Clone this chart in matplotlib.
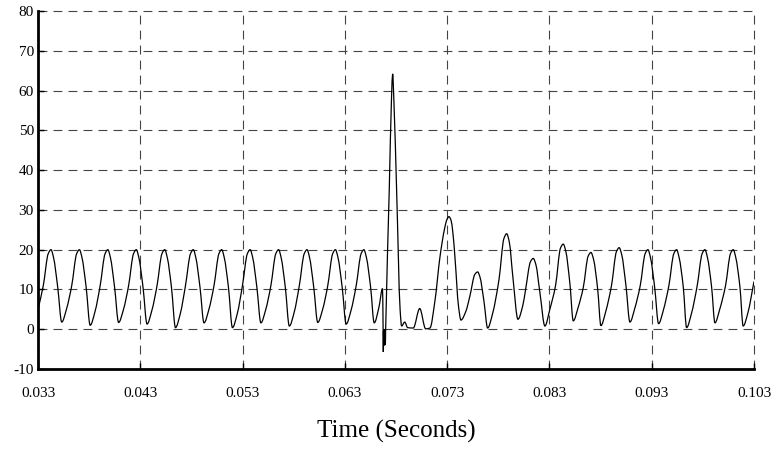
import numpy as np
import matplotlib
matplotlib.use("Agg")
import matplotlib.pyplot as plt
from matplotlib.path import Path
from matplotlib.patches import PathPatch

plt.rcParams['font.family'] = ['Liberation Serif', 'DejaVu Serif']
plt.rcParams['axes.unicode_minus'] = False

# waveform samples: time in ms, amplitude
time_ms = [
    33.00, 33.52,
    34.00, 34.27, 34.52, 34.93, 35.32, 35.80, 36.30,
    36.78, 37.05, 37.30, 37.71, 38.10, 38.58, 39.08,
    39.56, 39.83, 40.08, 40.49, 40.88, 41.36, 41.86,
    42.34, 42.61, 42.86, 43.27, 43.66, 44.14, 44.64,
    45.12, 45.39, 45.64, 46.05, 46.44, 46.92, 47.42,
    47.91, 48.18, 48.43, 48.84, 49.23, 49.71, 50.21,
    50.69, 50.96, 51.21, 51.62, 52.01, 52.49, 52.99,
    53.47, 53.74, 53.99, 54.40, 54.79, 55.27, 55.77,
    56.25, 56.52, 56.77, 57.18, 57.57, 58.05, 58.55,
    59.03, 59.30, 59.55, 59.96, 60.35, 60.83, 61.33,
    61.81, 62.08, 62.33, 62.74, 63.13, 63.61, 64.11,
    64.59, 64.86, 65.11, 65.52, 65.87, 66.33, 66.68,
    66.74, 66.76, 66.78, 66.80, 66.82, 66.84, 66.86, 66.88,
    66.90, 66.92, 66.94, 66.96, 66.98,
    67.34, 67.56, 67.67, 67.80, 68.06, 68.40, 68.55,
    68.85, 69.14, 69.69, 70.32, 70.90, 71.32,
    71.80, 72.30, 72.75, 72.98, 73.18, 73.38, 73.55, 73.78, 74.10, 74.35,
    74.83, 75.23, 75.71, 75.98, 76.20, 76.60, 76.96,
    77.45, 78.07, 78.55, 78.82, 79.07, 79.45, 79.92,
    80.40, 80.67, 81.15, 81.42, 81.67, 82.07, 82.56,
    83.04, 83.60, 84.08, 84.35, 84.60, 85.00, 85.33,
    85.81, 86.31, 86.79, 87.06, 87.31, 87.72, 88.03,
    88.51, 89.07, 89.55, 89.82, 90.07, 90.48, 90.87,
    91.35, 91.88, 92.36, 92.63, 92.88, 93.29, 93.67,
    94.15, 94.68, 95.16, 95.43, 95.68, 96.09, 96.41,
    96.89, 97.45, 97.93, 98.20, 98.45, 98.86, 99.18,
    99.66, 100.22, 100.70, 100.97, 101.22, 101.63, 101.94,
    102.42, 103.00,
]
values = [
    5.0, 11.0,
    19.0, 20.0, 18.0, 10.5, 1.8, 5.2, 11.0,
    19.0, 20.0, 18.0, 10.5, 1.0, 4.5, 11.0,
    19.0, 20.0, 18.0, 10.5, 1.7, 5.0, 11.0,
    19.0, 20.0, 18.0, 10.5, 1.3, 4.8, 11.0,
    19.0, 20.0, 18.0, 10.5, 0.4, 4.0, 11.0,
    19.0, 20.0, 18.0, 10.5, 1.6, 5.0, 11.0,
    19.0, 20.0, 18.0, 10.5, 0.4, 4.0, 11.0,
    19.0, 20.0, 18.0, 10.5, 1.6, 5.0, 11.0,
    19.0, 20.0, 18.0, 10.5, 0.8, 4.3, 11.0,
    19.0, 20.0, 18.0, 10.5, 1.7, 5.0, 11.0,
    19.0, 20.0, 18.0, 10.5, 1.3, 4.8, 11.0,
    19.0, 20.0, 18.0, 10.5, 1.6, 5.5, 10.2,
    0.0, -5.7, -0.5, -4.0, 0.0, -4.0, 0.0, -4.0,
    0.0, -4.0, -0.3, -3.8, -1.0,
    35.0, 58.0, 64.2, 57.0, 35.0, 5.0, 0.8,
    1.8, 0.4, 0.3, 5.2, 0.1, 0.3,
    7.0, 18.2, 25.3, 27.6, 28.3, 27.4, 24.5, 17.5, 6.0, 2.3,
    4.5, 8.4, 13.8, 14.4, 13.2, 7.0, 0.3,
    4.0, 12.5, 22.8, 24.0, 22.0, 12.5, 2.5,
    6.0, 10.0, 17.0, 17.8, 16.3, 9.2, 0.8,
    5.0, 11.0, 20.4, 21.4, 19.6, 11.5, 2.1,
    5.5, 10.5, 18.4, 19.3, 17.6, 10.0, 0.9,
    4.5, 11.0, 19.5, 20.5, 18.7, 11.0, 1.8,
    5.3, 11.0, 19.0, 20.0, 18.0, 10.5, 1.4,
    4.9, 11.0, 19.0, 20.0, 18.0, 10.5, 0.4,
    4.0, 11.0, 19.0, 20.0, 18.0, 10.5, 1.6,
    5.1, 11.0, 19.0, 20.0, 18.0, 10.5, 0.8,
    4.3, 12.0,
]

x_ticks = [0.033, 0.043, 0.053, 0.063, 0.073, 0.083, 0.093, 0.103]
x_labels = ['0.033', '0.043', '0.053', '0.063', '0.073', '0.083', '0.093', '0.103']
y_ticks = [-10, 0, 10, 20, 30, 40, 50, 60, 70, 80]


def smooth_path(x, y):
    # monotone cubic segments through the samples, drawn as bezier curves
    h = np.diff(x)
    d = np.diff(y) / h
    m = np.zeros_like(y)
    for i in range(1, len(x) - 1):
        if d[i - 1] * d[i] > 0:
            w1 = 2 * h[i] + h[i - 1]
            w2 = h[i] + 2 * h[i - 1]
            m[i] = (w1 + w2) / (w1 / d[i - 1] + w2 / d[i])
    m[0] = d[0]
    m[-1] = d[-1]
    verts = [(x[0], y[0])]
    codes = [Path.MOVETO]
    for i in range(len(x) - 1):
        verts += [(x[i] + h[i] / 3, y[i] + m[i] * h[i] / 3),
                  (x[i + 1] - h[i] / 3, y[i + 1] - m[i + 1] * h[i] / 3),
                  (x[i + 1], y[i + 1])]
        codes += [Path.CURVE4] * 3
    return Path(verts, codes)


t = np.array(time_ms) / 1000.0
v = np.array(values)

fig = plt.figure(figsize=(7.73, 4.5), dpi=100)
ax = fig.add_axes([38 / 773, 1 - 369 / 450, 716 / 773, 358 / 450])

ax.add_patch(PathPatch(smooth_path(t, v), fill=False, edgecolor='black', lw=0.9))

ax.set_xlim(0.033, 0.103)
ax.set_ylim(-10, 80)
ax.set_xticks(x_ticks)
ax.set_xticklabels(x_labels)
ax.set_yticks(y_ticks)

ax.grid(True, color='#444444', lw=0.8, ls=(0, (8, 5.5)))
ax.set_axisbelow(True)
for gl in ax.get_xgridlines() + ax.get_ygridlines():
    gl.set_clip_on(False)

for side in ['top', 'right']:
    ax.spines[side].set_visible(False)
for side in ['left', 'bottom']:
    ax.spines[side].set_linewidth(2.0)
    ax.spines[side].set_zorder(3)

ax.tick_params(axis='x', direction='in', length=4, width=1, pad=13, labelsize=11)
ax.tick_params(axis='y', direction='in', length=4, width=1, pad=3, labelsize=11)

ax.set_xlabel('Time (Seconds)', fontsize=18, labelpad=14)

fig.savefig('out.png', dpi=100, facecolor='white')
